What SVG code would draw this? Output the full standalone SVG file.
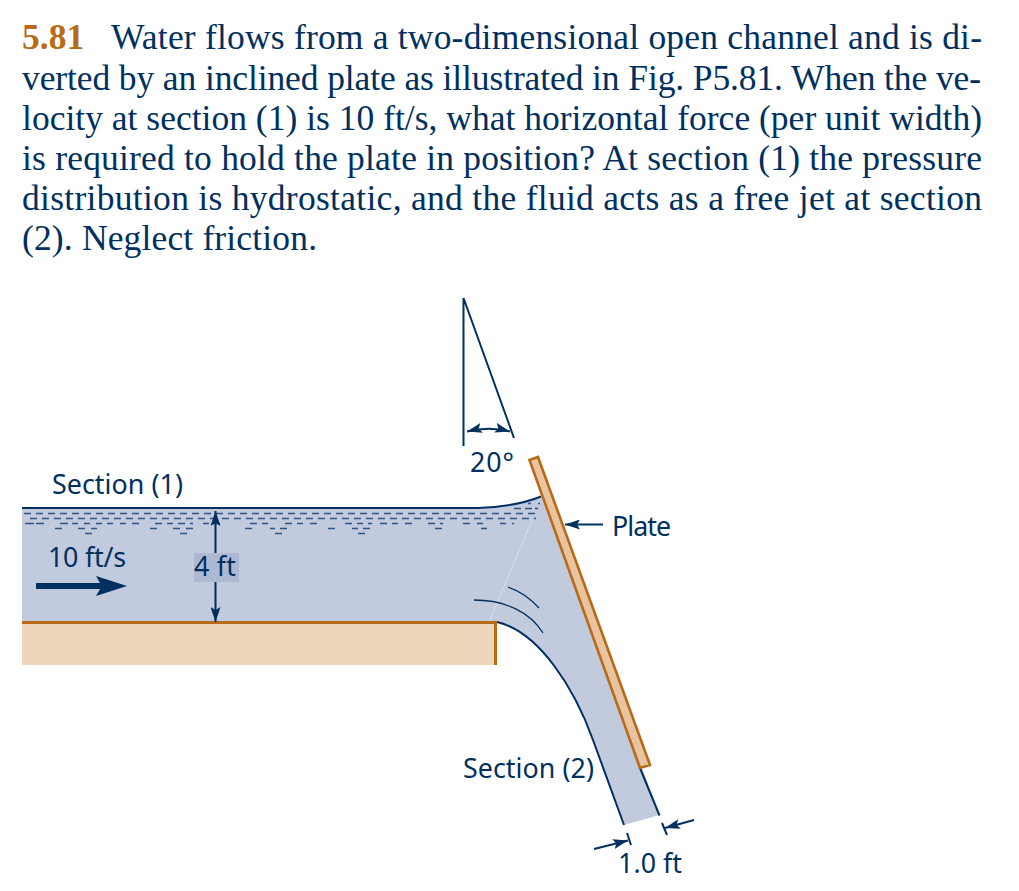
<svg xmlns="http://www.w3.org/2000/svg" width="1019" height="891" viewBox="0 0 1019 891">
<style>
.p{font-family:"Liberation Serif","Times New Roman",serif;font-size:35.500px;fill:#00305f}
.l{font-family:"Noto Sans","Open Sans",sans-serif;font-size:26.800px;fill:#00305f}
.n{fill:none;stroke:#00305f;stroke-width:2}
.d{fill:none;stroke:#2f5685;stroke-width:1.600}
.o{stroke:#b96a17;stroke-width:2.600}
</style>
<defs>
<marker id="a" markerUnits="userSpaceOnUse" markerWidth="16" markerHeight="10" refX="15" refY="5" orient="auto-start-reverse"><path d="M0,0 L15,5 L0,10 L3,5Z" fill="#00305f"/></marker>
</defs>
<rect width="1019" height="891" fill="#fff"/>
<g id="problem-text">
<text class="p" x="22" y="49" font-weight="bold" style="fill:#b96a17">5.81</text>
<text class="p" x="111" y="49" textLength="871">Water flows from a two-dimensional open channel and is di-</text>
<text class="p" x="22" y="90" textLength="959">verted by an inclined plate as illustrated in Fig. P5.81. When the ve-</text>
<text class="p" x="22" y="130" textLength="960">locity at section (1) is 10 ft/s, what horizontal force (per unit width)</text>
<text class="p" x="22" y="170" textLength="960">is required to hold the plate in position? At section (1) the pressure</text>
<text class="p" x="22" y="210" textLength="960">distribution is hydrostatic, and the fluid acts as a free jet at section</text>
<text class="p" x="22" y="250" textLength="295">(2). Neglect friction.</text>
</g>
<g id="water">
<path d="M22,508 H478 C505,507 525,503 541,496.500 L659.500,815 L624,825 L593,740 C575,690 540,632 497,622 H22Z" fill="#c2cade"/>
<path d="M532,520 L489,622" stroke="#fff" stroke-opacity=".4" stroke-width="1" fill="none"/>
<path class="d" stroke-dasharray="7 5" d="M24,513.500 H540"/>
<path class="d" stroke-dasharray="7 5" d="M30,518.500 H536"/>
<path class="d" d="M25,523.500h9M36,523.500h8M60,523.500h8M72,523.500h6M84,523.500h6M96,523.500h6M107,523.500h6M120,523.500h6M132,523.500h7M155,523.500h7M167,523.500h6M178,523.500h7M190,523.500h3M203,523.500h6M213,523.500h7M250,523.500h7M262,523.500h6M285,523.500h7M297,523.500h6M310,523.500h7M345,523.500h7M357,523.500h6M368,523.500h4M380,523.500h7M392,523.500h6M405,523.500h7M428,523.500h7M440,523.500h3M463,523.500h7M477,523.500h6M500,523.500h6M512,523.500h2"/>
<path class="d" d="M55,528.500h7M78,528.500h7M91,528.500h6M150,528.500h7M173,528.500h7M186,528.500h7M245,528.500h7M270,528.500h5M280,528.500h7M328,528.500h7M352,528.500h6M363,528.500h7M435,528.500h7M481,528.500h6"/>
<path class="d" d="M85,533.500h7M180,533.500h7M275,533.500h7M358,533.500h7"/>
<path class="d" d="M514,508.500h7M525,508.500h7M535,508.500h3M528,503.500h3M538,503.500h2"/>
</g>
<g id="floor">
<rect x="22" y="622" width="474" height="43" fill="#eed6bd"/>
<path d="M22,622.500 H495.500 V665" fill="none" class="o" style="stroke-width:3"/>
</g>
<g id="water-outline">
<path d="M22,508 H478 C505,507 525,503 541,496.500" class="n"/>
<path d="M497,622 C540,632 575,690 593,740 L624,825" class="n"/>
<path d="M640,768 L659.500,815.500" class="n"/>
<path d="M508,587 C520,591 530,598 539,608" class="n" style="stroke-width:1.300"/>
<path d="M474,600 C505,600 530,612 543,633" class="n" style="stroke-width:1.300"/>
</g>
<g id="plate">
<path d="M529.500,460 L538,457 L650,765 L640,768Z" fill="#e8c5a0" class="o"/>
<path d="M603,524.500 H565" class="n" marker-end="url(#a)"/>
<text class="l" x="612" y="536" textLength="59">Plate</text>
</g>
<g id="angle">
<path d="M463.500,446 V298 L514,438" class="n"/>
<path d="M467,431.500 Q489,426 510,431.500" class="n" marker-start="url(#a)" marker-end="url(#a)"/>
<text class="l" x="470" y="472" textLength="44">20°</text>
</g>
<g id="section-1"><text class="l" x="52" y="494" textLength="131">Section (1)</text></g>
<g id="velocity">
<text class="l" x="48" y="567" textLength="78">10 ft/s</text>
<path d="M36,583 H100 L96,576 L127,586 L96,596 L100,589 H36Z" fill="#00305f"/>
</g>
<g id="depth">
<rect x="194" y="553" width="45" height="29" fill="#adb9d3"/>
<path d="M215.500,553 V511" class="n" marker-end="url(#a)"/>
<path d="M215.500,582 V622" class="n" marker-end="url(#a)"/>
<text class="l" x="194" y="576" textLength="42">4 ft</text>
</g>
<g id="section-2"><text class="l" x="463" y="778" textLength="131">Section (2)</text></g>
<g id="width">
<path d="M627,833 L631,845 M662,823 L667,835" class="n"/>
<path d="M594,849 L628,840.500" class="n" marker-end="url(#a)"/>
<path d="M694,820 L665,828" class="n" marker-end="url(#a)"/>
<text class="l" x="618" y="873" textLength="64">1.0 ft</text>
</g>
</svg>
